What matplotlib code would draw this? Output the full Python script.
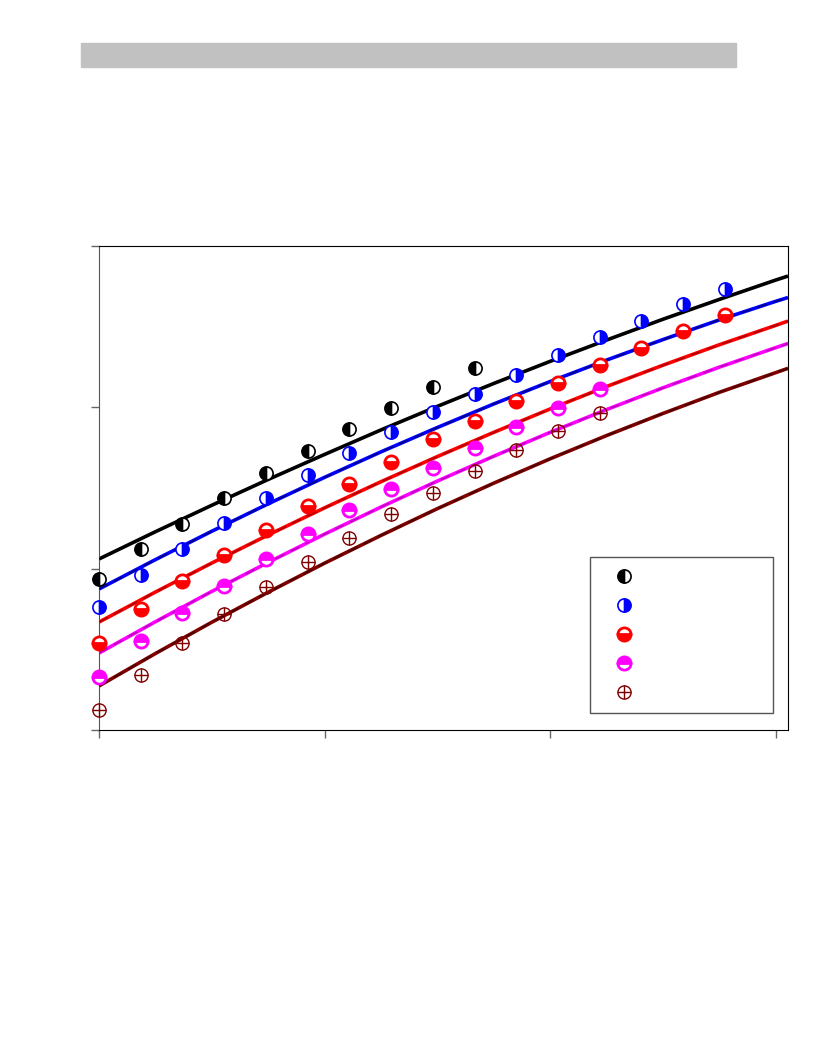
import matplotlib
matplotlib.use('Agg')
import matplotlib.pyplot as plt
from matplotlib.patches import Rectangle
from matplotlib.lines import Line2D

# measured points (x in axis units, 4 ticks at 0..3)
x_pts = [0, 0.185, 0.37, 0.555, 0.74, 0.925, 1.11, 1.295, 1.48, 1.665,
         1.85, 2.035, 2.22, 2.405, 2.59, 2.775]
black_pts = [0.936, 1.122, 1.277, 1.438, 1.593, 1.729, 1.866, 1.996, 2.126, 2.244]
blue_pts = [0.762, 0.961, 1.122, 1.283, 1.438, 1.581, 1.717, 1.847, 1.971, 2.083,
            2.200, 2.324, 2.436, 2.535, 2.641, 2.734]
red_pts = [0.539, 0.750, 0.924, 1.085, 1.240, 1.388, 1.525, 1.661, 1.804, 1.915,
           2.039, 2.151, 2.262, 2.367, 2.473, 2.572]
magenta_pts = [0.329, 0.552, 0.725, 0.893, 1.060, 1.215, 1.364, 1.494, 1.624, 1.748,
               1.878, 1.996, 2.114]
brown_pts = [0.124, 0.341, 0.539, 0.719, 0.886, 1.041, 1.190, 1.339, 1.469, 1.605,
             1.736, 1.853, 1.965]

# model curves
x_fit = [0, 0.25, 0.5, 0.75, 1.0, 1.25, 1.5, 1.75, 2.0, 2.25, 2.5, 2.75, 3.0, 3.055]
black_fit = [1.060, 1.229, 1.393, 1.553, 1.708, 1.860, 2.006, 2.148, 2.285, 2.417,
             2.546, 2.669, 2.789, 2.814]
blue_fit = [0.874, 1.056, 1.232, 1.402, 1.566, 1.724, 1.875, 2.021, 2.160, 2.293,
            2.420, 2.542, 2.657, 2.681]
red_fit = [0.669, 0.855, 1.035, 1.209, 1.377, 1.539, 1.695, 1.845, 1.990, 2.129,
           2.261, 2.388, 2.508, 2.535]
magenta_fit = [0.477, 0.671, 0.859, 1.039, 1.214, 1.382, 1.543, 1.697, 1.845, 1.986,
               2.121, 2.249, 2.370, 2.396]
brown_fit = [0.273, 0.474, 0.668, 0.854, 1.034, 1.206, 1.372, 1.530, 1.681, 1.825,
             1.962, 2.093, 2.215, 2.242]

series = [
    (black_pts, black_fit, 'black', '#000000', 'left', 1.2),
    (blue_pts, blue_fit, 'blue', '#00008b', 'right', 1.2),
    (red_pts, red_fit, 'red', '#b00000', 'bottom', 2.0),
    (magenta_pts, magenta_fit, 'magenta', '#c000c0', 'top', 2.0),
    (brown_pts, brown_fit, '#800000', '#4a0000', None, 1.0),
]


def main():
    fig = plt.figure(figsize=(8.16, 10.56), dpi=100)
    fig.patches.append(Rectangle((0.0993, 0.9366), 0.8027, 0.0227,
                                 transform=fig.transFigure, color='#c0c1c0', zorder=0))
    ax = fig.add_axes([0.1213, 0.3087, 0.8444, 0.4583])

    handles = []
    for pts, fit, col, dcol, fs, mew in series:
        ax.plot(x_fit, fit, color=col, lw=2.6, solid_capstyle='butt', zorder=2)
        ax.plot(x_fit, fit, color=dcol, lw=1.2, ls=(0, (6, 4)), zorder=3)
        xs = x_pts[:len(pts)]
        if fs is None:
            h = ax.plot(xs, pts, 'o', ms=9.5, mfc='none', mec=col, mew=mew,
                        zorder=4, clip_on=False)[0]
            ax.plot(xs, pts, '+', ms=9.5, mec=col, mew=mew, zorder=4, clip_on=False)
            h = (h, Line2D([], [], ls='none', marker='+', ms=9.5, mec=col, mew=mew))
        else:
            h = ax.plot(xs, pts, 'o', ms=9.5, fillstyle=fs, mfc=col, mfcalt='white',
                        mec=col, mew=mew, zorder=4, clip_on=False)[0]
        handles.append(h)

    ax.set_xlim(0, 3.055)
    ax.set_ylim(0, 3)
    ax.set_xticks([0, 1, 2, 3])
    ax.set_yticks([0, 1, 2, 3])
    ax.set_xticklabels([])
    ax.set_yticklabels([])
    ax.tick_params(direction='out', length=6, width=1, colors='#666666')
    ax.spines['left'].set_color('#555555')
    for s in ['top', 'right', 'bottom']:
        ax.spines[s].set_color('black')

    leg = ax.legend(handles, ['                    '] * 5, loc='lower left',
                    bbox_to_anchor=(0.7126, 0.0351, 0.2654, 0.3244), mode='expand',
                    fancybox=False, edgecolor='#555555', framealpha=1,
                    fontsize=10, labelspacing=1.08, borderpad=0.95,
                    handlelength=3.0, handletextpad=0.8, borderaxespad=0)
    leg.get_frame().set_linewidth(1.0)

    fig.savefig('out.png', dpi=100)


if __name__ == '__main__':
    main()
